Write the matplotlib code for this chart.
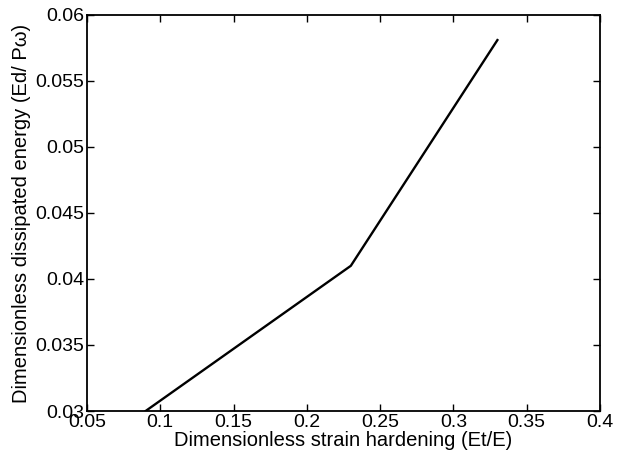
import matplotlib
matplotlib.use("Agg")
import matplotlib.pyplot as plt

strain_hardening = [0.09, 0.23, 0.33]
dissipated_energy = [0.030, 0.041, 0.0581]
x_ticks = [0.05, 0.1, 0.15, 0.2, 0.25, 0.3, 0.35, 0.4]
x_tick_labels = ["0.05", "0.1", "0.15", "0.2", "0.25", "0.3", "0.35", "0.4"]
y_ticks = [0.03, 0.035, 0.04, 0.045, 0.05, 0.055, 0.06]
y_tick_labels = ["0.03", "0.035", "0.04", "0.045", "0.05", "0.055", "0.06"]

plt.rcParams["font.family"] = ["Liberation Sans", "DejaVu Sans"]

fig = plt.figure(figsize=(6.22, 4.61), dpi=100)
ax = fig.add_axes([87 / 622, 50 / 461, 513 / 622, 396 / 461])

ax.plot(strain_hardening, dissipated_energy, color="black", linewidth=1.7)

ax.set_xlim(0.05, 0.4)
ax.set_ylim(0.03, 0.06)
ax.set_xticks(x_ticks)
ax.set_xticklabels(x_tick_labels)
ax.set_yticks(y_ticks)
ax.set_yticklabels(y_tick_labels)
ax.tick_params(direction="in", top=True, right=True, length=5, width=1,
               labelsize=14, pad=2)
for s in ax.spines.values():
    s.set_linewidth(1.3)

ax.set_xlabel("Dimensionless strain hardening (Et/E)", fontsize=14.5, labelpad=0)
ax.set_ylabel("Dimensionless dissipated energy (Ed/ P\u03c9)", fontsize=14.5, labelpad=3)

fig.savefig("out.png", dpi=100)
